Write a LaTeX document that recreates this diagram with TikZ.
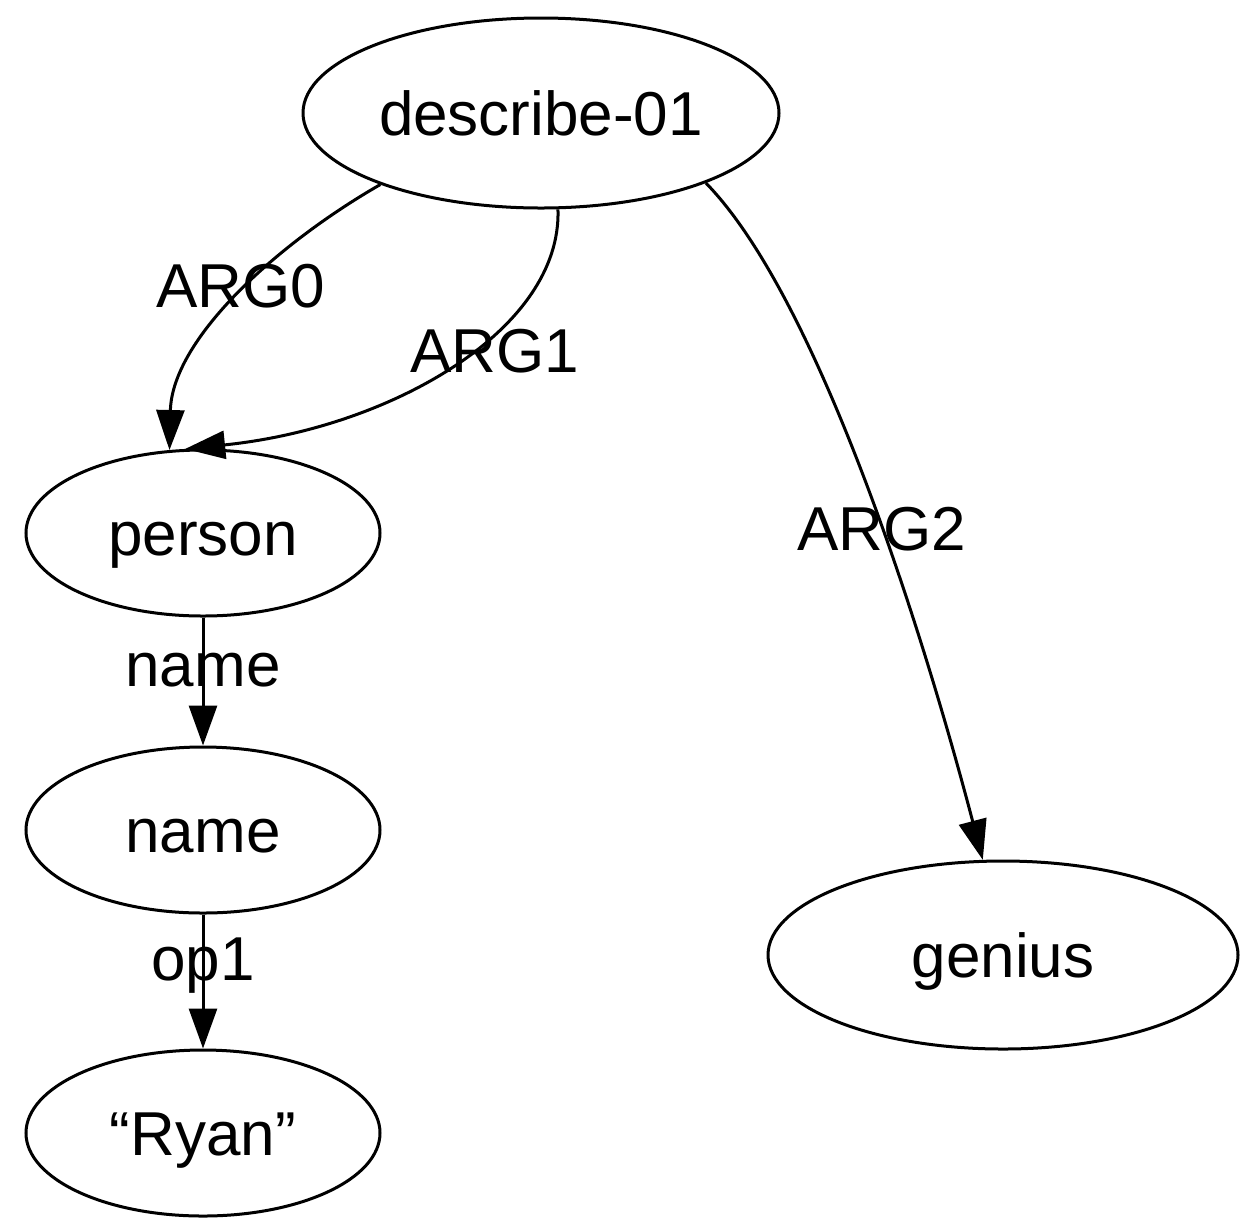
\documentclass[tikz,border=0pt]{standalone}
\usepackage{fontspec}
\setmainfont{Liberation Sans}
\usetikzlibrary{shapes.geometric,arrows.meta}
\begin{document}
\begin{tikzpicture}[x=0.5pt,y=-0.5pt,
  txt/.style={font=\fontsize{31}{36}\selectfont,text height=22.6pt,text depth=0pt},
  concept/.style={txt,draw,ellipse,line width=1.5pt,inner sep=0pt},
  small/.style={concept,minimum width=177pt,minimum height=83pt},
  wide/.style={concept,minimum width=236pt,minimum height=94pt},
  rel/.style={line width=1.5pt,-{Triangle[length=20pt,width=14pt]}},
  lbl/.style={txt,inner sep=0pt}]
\useasboundingbox (0,0) rectangle (1241,1222);
% concept nodes
\node[wide,minimum width=238pt,minimum height=95pt] (d) at (541,113) {describe-01};
\node[small] (p) at (203,533) {person};
\node[small] (n) at (203,830) {name};
\node[small] (r) at (203,1133) {“Ryan”};
\node[wide,minimum width=235pt,minimum height=94pt] (g) at (1003,955) {genius};
% relations
\draw[rel] (d.204) .. controls (275,245) and (172,340) .. (p.112);
\draw[rel] (d.280) .. controls (562,330) and (390,428) .. (p.102);
\draw[rel] (d.337) .. controls (820,300) and (925,640) .. (g.102);
\draw[rel] (p.south) -- (n.north);
\draw[rel] (n.south) -- (r.north);
% relation labels
\node[lbl] (l0) at (241,285) {ARG0};
\node[lbl] (l1) at (495,350) {ARG1};
\node[lbl] (l2) at (882,528) {ARG2};
\node[lbl] (l3) at (203,664) {name};
\node[lbl] (l4) at (203,958) {op1};
\end{tikzpicture}
\end{document}
